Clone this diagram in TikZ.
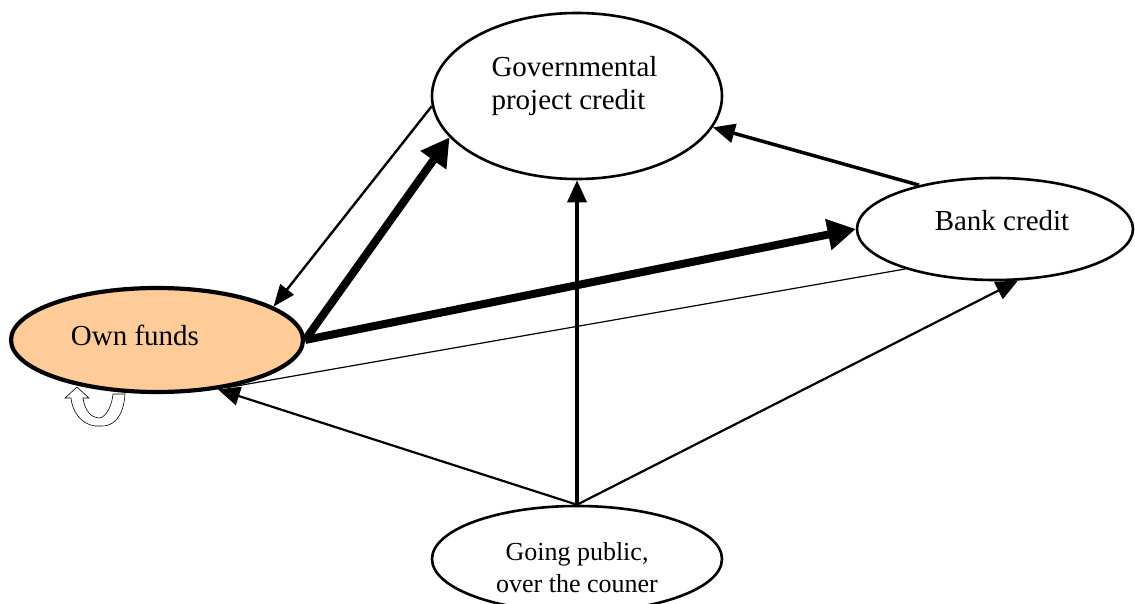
\documentclass[tikz,border=0pt]{standalone}
\usepackage{fontspec}
\setmainfont{Liberation Serif}
\usetikzlibrary{shapes.geometric,arrows.meta}
\definecolor{ownfill}{RGB}{255,204,153}

\begin{document}
\begin{tikzpicture}[x=1pt, y=-1pt,
  box/.style = {draw, ellipse, line width=2.6pt, inner sep=0pt},
  txt/.style = {font=\fontsize{29}{34}\selectfont, anchor=base},
  small/.style = {font=\fontsize{26}{30}\selectfont, anchor=base},
  thin arrow/.style = {-{Triangle[length=22pt,width=17pt]}, line width=2.4pt},
  mid arrow/.style = {-{Triangle[length=22pt,width=19pt]}, line width=3.5pt},
  fat arrow/.style = {-{Triangle[length=28pt,width=30pt]}, line width=8pt}]
\useasboundingbox (0,0) rectangle (1135,604);

% the four sources
\node[box, minimum width=290pt, minimum height=166pt] (gov) at (577,96) {};
\node[box, minimum width=276pt, minimum height=102pt] (bank) at (995,229) {};
\node[box, fill=ownfill, line width=4.2pt, minimum width=292pt, minimum height=104pt] (own) at (157,340) {};
\node[box, minimum width=290pt, minimum height=106pt] (going) at (577,559) {};

% labels
\node[txt, anchor=base west] (gov1) at (488,77) {Governmental};
\node[txt, anchor=base west] (gov2) at (488,110) {project credit};
\node[txt] (banktext) at (1002,230) {Bank credit};
\node[txt] (owntext) at (135,345) {Own funds};
\node[small] (going1) at (577,560) {Going public,};
\node[small] (going2) at (577,592) {over the couner};

% flows
\draw[thin arrow] (gov.184) -- (own.16);
\draw[fat arrow] (own.east) -- (gov.198);
\draw[fat arrow] (own.east) -- (bank.west);
\draw[line width=1.2pt] (bank.204) -- (own.326);
\draw[mid arrow, line width=2.2pt] (going.north) -- (own.321);
\draw[mid arrow, line width=2.2pt] (going.north) -- (bank.294);
\draw[mid arrow] (going.north) -- (gov.south);
\draw[mid arrow] (bank.150) -- (gov.347);

% reinvestment loop
\draw[line width=0.6pt, fill=white] (65,398) -- (77,387) -- (89,398) -- (83,398)
  .. controls (85,412) and (92,418) .. (100,418)
  .. controls (107,416) and (112,405) .. (113,394) -- (125,394)
  .. controls (124,410) and (118,426) .. (102,426) -- (95,426)
  .. controls (80,424) and (72,410) .. (71,398) -- cycle;
\end{tikzpicture}
\end{document}
